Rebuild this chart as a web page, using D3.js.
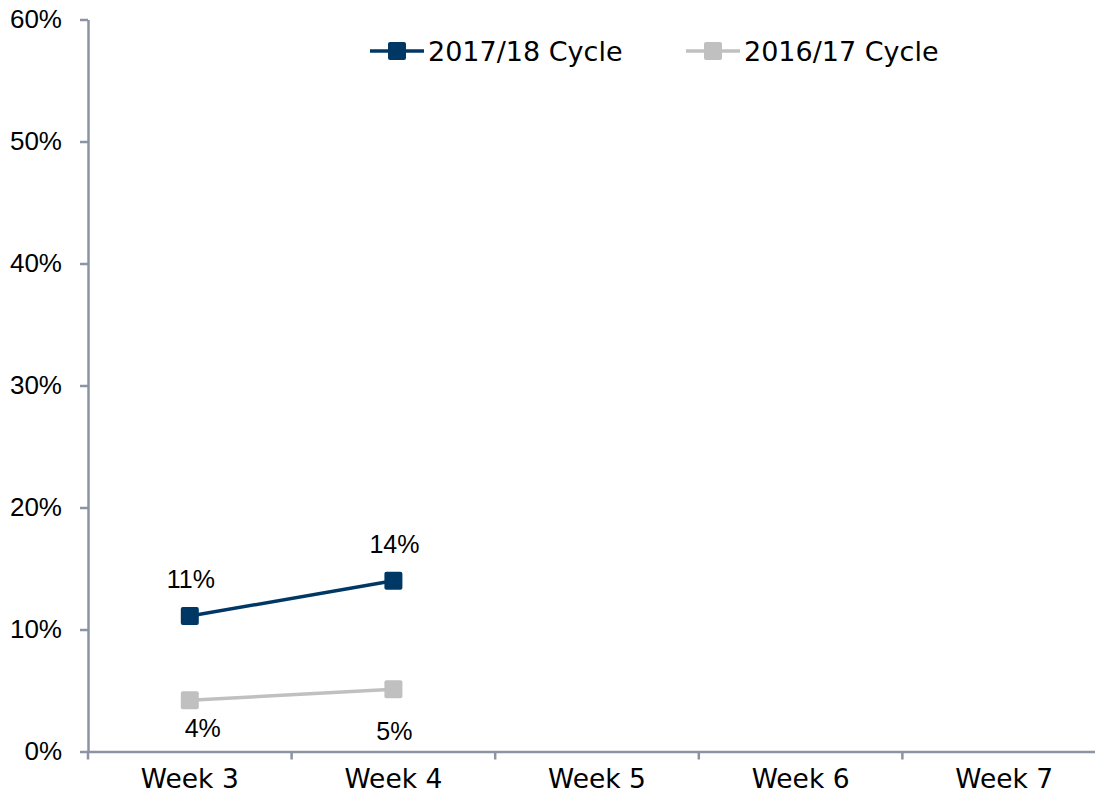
<!DOCTYPE html>
<html>
<head>
<meta charset="utf-8">
<script src="https://cdn.jsdelivr.net/npm/d3@7"></script>
<style>
  body { margin: 0; background: #fff; }
  .chart text { fill: #000; }
</style>
</head>
<body>
<svg class="chart" width="1095" height="799"></svg>
<script>
const weeks = ['Week 3', 'Week 4', 'Week 5', 'Week 6', 'Week 7'];
const cycle1718 = [0.111, 0.140];
const cycle1617 = [0.042, 0.051];
const cycle1718Labels = ['11%', '14%'];
const cycle1617Labels = ['4%', '5%'];
const yTicks = [0, 0.1, 0.2, 0.3, 0.4, 0.5, 0.6];

const BLUE = '#003865';
const GREY = '#c0c0c0';
const AXIS = '#8c93a3';

const svg = d3.select('.chart');

const x = d3.scaleBand().domain(weeks).range([88, 1106]);
const y = d3.scaleLinear().domain([0, 0.6]).range([751.5, 19.5]);

// y axis
const yAxis = svg.append('g')
  .attr('transform', 'translate(88,0)')
  .call(d3.axisLeft(y).tickValues(yTicks).tickFormat(d3.format('.0%'))
    .tickSize(8).tickSizeOuter(0).tickPadding(18));
yAxis.select('.domain').attr('stroke', AXIS).attr('stroke-width', 2.5);
yAxis.selectAll('.tick line').attr('stroke', AXIS).attr('stroke-width', 2.5);
yAxis.selectAll('.tick text')
  .attr('font-family', 'Liberation Sans, Arial, sans-serif')
  .attr('font-size', 26).attr('fill', '#000');

// x axis
const xAxis = svg.append('g')
  .attr('transform', `translate(0,${y(0)})`)
  .call(d3.axisBottom(x).tickSize(0).tickSizeOuter(0).tickPadding(18));
xAxis.select('.domain').attr('stroke', AXIS).attr('stroke-width', 2.5);
xAxis.selectAll('.tick text')
  .attr('font-family', 'DejaVu Sans, Verdana, sans-serif')
  .attr('font-size', 26.5).attr('fill', '#000');
// boundary ticks between categories
xAxis.selectAll('.bound')
  .data(weeks.map(w => x(w)).concat([x.range()[1]]))
  .enter().append('line')
  .attr('class', 'bound')
  .attr('x1', d => d).attr('x2', d => d)
  .attr('y1', 0).attr('y2', 8)
  .attr('stroke', AXIS).attr('stroke-width', 2.5);

const cx = i => x(weeks[i]) + x.bandwidth() / 2;
const line = d3.line().x((d, i) => cx(i)).y(d => y(d));

function drawSeries(values, color) {
  svg.append('path')
    .datum(values)
    .attr('d', line)
    .attr('fill', 'none')
    .attr('stroke', color)
    .attr('stroke-width', 3.5);
  svg.selectAll(null)
    .data(values)
    .enter().append('rect')
    .attr('x', (d, i) => cx(i) - 9)
    .attr('y', d => y(d) - 9)
    .attr('width', 18).attr('height', 18)
    .attr('rx', 2)
    .attr('fill', color);
}
drawSeries(cycle1617, GREY);
drawSeries(cycle1718, BLUE);

// data labels
svg.selectAll(null)
  .data(cycle1718)
  .enter().append('text')
  .attr('x', (d, i) => cx(i) + 1)
  .attr('y', d => y(d) - 28)
  .attr('text-anchor', 'middle')
  .attr('font-family', 'Liberation Sans, Arial, sans-serif')
  .attr('font-size', 25)
  .text((d, i) => cycle1718Labels[i]);

const below = [37, 51];
svg.selectAll(null)
  .data(cycle1617)
  .enter().append('text')
  .attr('x', (d, i) => cx(i) + (i === 0 ? 13 : 1))
  .attr('y', (d, i) => y(d) + below[i])
  .attr('text-anchor', 'middle')
  .attr('font-family', 'Liberation Sans, Arial, sans-serif')
  .attr('font-size', 25)
  .text((d, i) => cycle1617Labels[i]);

// legend
const legendItems = [
  { name: '2017/18 Cycle', color: BLUE, x: 370 },
  { name: '2016/17 Cycle', color: GREY, x: 686 }
];
const lg = svg.selectAll('.legend')
  .data(legendItems)
  .enter().append('g')
  .attr('class', 'legend')
  .attr('transform', d => `translate(${d.x},51)`);
lg.append('line')
  .attr('x1', 0).attr('x2', 54)
  .attr('stroke', d => d.color).attr('stroke-width', 3.5);
lg.append('rect')
  .attr('x', 18).attr('y', -9).attr('width', 18).attr('height', 18)
  .attr('rx', 2).attr('fill', d => d.color);
lg.append('text')
  .attr('x', 58).attr('dy', '0.36em')
  .attr('font-family', 'DejaVu Sans, Verdana, sans-serif')
  .attr('font-size', 27)
  .text(d => d.name);
</script>
</body>
</html>
